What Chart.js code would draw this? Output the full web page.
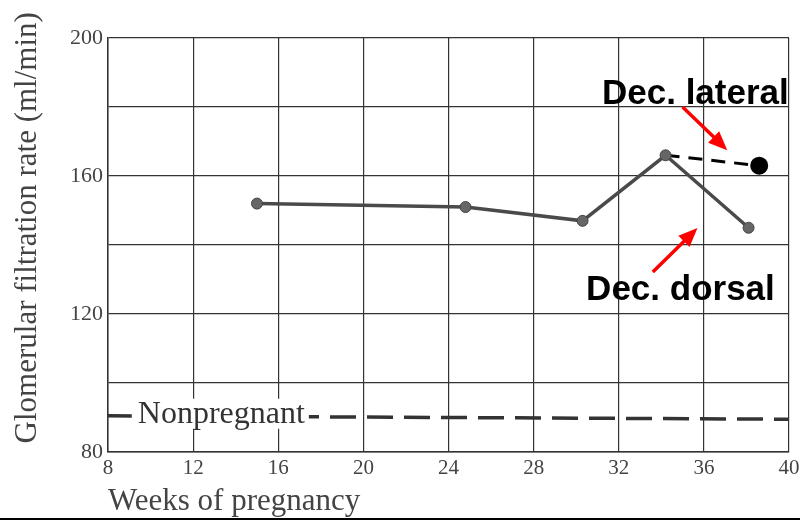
<!DOCTYPE html>
<html>
<head>
<meta charset="utf-8">
<script src="https://cdn.jsdelivr.net/npm/chart.js@4.4.1/dist/chart.umd.min.js"></script>
<style>
  html, body { margin: 0; padding: 0; background: #fff; }
  #wrap { width: 800px; height: 521px; position: relative; }
</style>
</head>
<body>
<div id="wrap"><canvas id="gfrChart"></canvas></div>
<script>
// data
var weeks = [15, 24.8, 30.3, 34.2, 38.1];
var gfrDorsal = [152, 151, 147, 166, 145];
var lateralWeeks = [34.2, 38.6];
var gfrLateral = [166, 163];
var nonpregWeeks = [8, 40];
var nonpregGfr = [90.5, 89.5];
var xTicks = [8, 12, 16, 20, 24, 28, 32, 36, 40];
var yLabelled = [80, 120, 160, 200];

var serif = '"Liberation Serif", "DejaVu Serif", serif';

var toPts = function (xs, ys) {
  return xs.map(function (x, i) { return { x: x, y: ys[i] }; });
};

// text + arrows, placed through the chart scales
var notes = {
  id: 'notes',
  afterDatasetsDraw: function (chart) {
    var c = chart.ctx, xs = chart.scales.x, ys = chart.scales.y;
    c.save();

    // y axis title, sits a bit above the centre of the axis in the original
    c.save();
    c.translate(28, ys.getPixelForValue(145));
    c.rotate(-Math.PI / 2);
    c.font = '31px ' + serif;
    c.fillStyle = '#444';
    c.textAlign = 'center';
    c.textBaseline = 'middle';
    c.fillText('Glomerular filtration rate (ml/min)', 0, 0);
    c.restore();

    // Nonpregnant label sitting on the dashed line
    var lx = xs.getPixelForValue(9.4), ly = ys.getPixelForValue(90.8);
    c.font = '32px ' + serif;
    var w = c.measureText('Nonpregnant').width;
    c.fillStyle = '#fff';
    c.fillRect(lx - 6, ly - 16, w + 10, 30);
    c.fillStyle = '#333';
    c.textBaseline = 'middle';
    c.textAlign = 'left';
    c.fillText('Nonpregnant', lx, ly);

    // bold annotations
    c.font = 'bold 35px "Liberation Sans", Arial, sans-serif';
    c.fillStyle = '#000';
    c.textAlign = 'center';
    c.fillText('Dec. lateral', xs.getPixelForValue(35.6), ys.getPixelForValue(183.7));
    c.fillText('Dec. dorsal', xs.getPixelForValue(34.9), ys.getPixelForValue(127));

    var arrow = function (x1, y1, x2, y2) {
      var a = Math.atan2(y2 - y1, x2 - x1);
      c.strokeStyle = '#f00';
      c.fillStyle = '#f00';
      c.lineWidth = 3.5;
      c.beginPath();
      c.moveTo(x1, y1);
      c.lineTo(x2 - 12 * Math.cos(a), y2 - 12 * Math.sin(a));
      c.stroke();
      c.beginPath();
      c.moveTo(x2, y2);
      c.lineTo(x2 - 19 * Math.cos(a) + 8 * Math.sin(a), y2 - 19 * Math.sin(a) - 8 * Math.cos(a));
      c.lineTo(x2 - 19 * Math.cos(a) - 8 * Math.sin(a), y2 - 19 * Math.sin(a) + 8 * Math.cos(a));
      c.closePath();
      c.fill();
    };
    arrow(xs.getPixelForValue(35.0), ys.getPixelForValue(180),
          xs.getPixelForValue(37.1), ys.getPixelForValue(167.5));
    arrow(xs.getPixelForValue(33.6), ys.getPixelForValue(132.2),
          xs.getPixelForValue(35.7), ys.getPixelForValue(144.9));

    // bottom rule of the scan
    c.strokeStyle = '#000';
    c.lineWidth = 2;
    c.beginPath();
    c.moveTo(0, 519);
    c.lineTo(800, 519);
    c.stroke();
    c.restore();
  }
};

var ctx = document.getElementById('gfrChart').getContext('2d');

new Chart(ctx, {
  type: 'scatter',
  data: {
    datasets: [{
      label: 'Nonpregnant',
      data: toPts(nonpregWeeks, nonpregGfr),
      showLine: true,
      borderColor: '#333',
      borderWidth: 3.5,
      borderDash: [26, 11],
      pointRadius: 0
    }, {
      label: 'Dec. dorsal',
      data: toPts(weeks, gfrDorsal),
      showLine: true,
      borderColor: '#4a4a4a',
      borderWidth: 3.5,
      pointRadius: 5.5,
      pointBackgroundColor: '#666',
      pointBorderColor: '#444',
      pointBorderWidth: 1
    }, {
      label: 'Dec. lateral',
      data: toPts(lateralWeeks, gfrLateral),
      showLine: true,
      borderColor: '#000',
      borderWidth: 3,
      borderDash: [14, 9],
      pointRadius: [0, 7.5],
      pointBackgroundColor: '#000',
      pointBorderColor: '#000'
    }]
  },
  options: {
    responsive: true,
    maintainAspectRatio: false,
    animation: false,
    layout: { padding: { top: 38, right: 11, left: 0, bottom: 0 } },
    plugins: {
      legend: { display: false },
      tooltip: { enabled: false }
    },
    scales: {
      x: {
        type: 'linear',
        min: 8,
        max: 40,
        afterBuildTicks: function (s) { s.ticks = xTicks.map(function (v) { return { value: v }; }); },
        afterFit: function (s) { s.height = 69; s.paddingRight = 0; s.paddingLeft = 0; },
        grid: { color: '#333', lineWidth: 1.2, drawTicks: false },
        border: { color: '#333', width: 1.5 },
        ticks: {
          color: '#444',
          padding: 4,
          font: { family: serif, size: 21 }
        },
        title: {
          display: true,
          text: 'Weeks of pregnancy',
          align: 'start',
          color: '#444',
          padding: { top: 0, bottom: 1 },
          font: { family: serif, size: 31 }
        }
      },
      y: {
        min: 80,
        max: 200,
        afterFit: function (s) { s.width = 108; s.paddingTop = 0; s.paddingBottom = 0; },
        grid: { color: '#333', lineWidth: 1.2, drawTicks: false },
        border: { color: '#333', width: 1.5 },
        ticks: {
          stepSize: 20,
          color: '#444',
          padding: 5,
          font: { family: serif, size: 22 },
          callback: function (v) { return yLabelled.indexOf(v) >= 0 ? v : ''; }
        }
      }
    }
  },
  plugins: [notes]
});
</script>
</body>
</html>
